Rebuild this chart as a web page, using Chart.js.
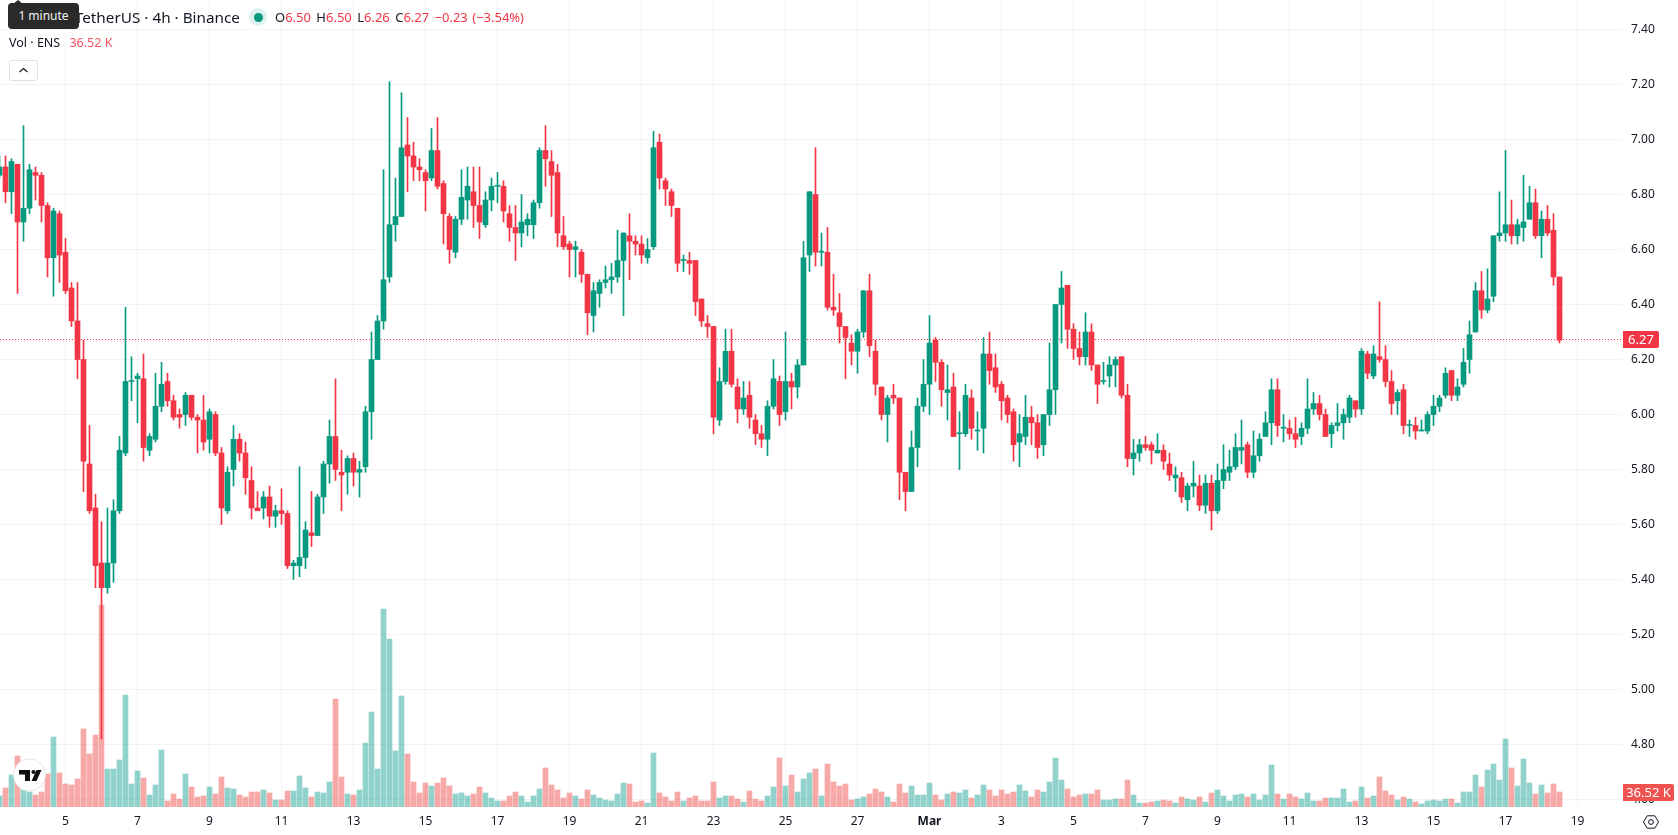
<!DOCTYPE html>
<html>
<head>
<meta charset="utf-8">
<title>ENS / TetherUS 4h</title>
<script src="https://cdn.jsdelivr.net/npm/chart.js@4/dist/chart.umd.min.js"></script>
<style>
  html, body { margin: 0; padding: 0; background: #fff; overflow: hidden; }
  #stage { position: relative; width: 1678px; height: 835px; font-family: "Noto Sans", sans-serif; color: #131722; }
  canvas { position: absolute; left: 0; top: 0; }
  .abs { position: absolute; white-space: nowrap; }
  .red { color: #F23645; }
  #title { right: calc(1678px - 240px); top: 6px; font-size: 15.3px; line-height: 22px; }
  #ohlc { left: 275px; top: 7px; font-size: 13px; line-height: 20px; word-spacing: 1px; }
  #ohlc span { margin-right: 1px; }
  #vol { left: 9px; top: 33px; font-size: 12.5px; line-height: 20px; }
  #vol b { font-weight: 400; color: #F7525F; margin-left: 6px; }
  #dot { left: 249px; top: 8px; width: 18px; height: 18px; border-radius: 50%; background: #DFF1EE; }
  #dot i { position: absolute; left: 4.5px; top: 4.5px; width: 9px; height: 9px; border-radius: 50%; background: #089981; }
  #hint { left: 8px; top: 3px; width: 71px; height: 26px; background: #2A2A2A; border-radius: 4px; color: #F2F2F2;
          font-size: 12px; line-height: 26px; text-align: center; }
  #hintTip { left: 13px; top: 0; width: 0; height: 0; border-left: 5px solid transparent; border-right: 5px solid transparent; border-bottom: 4px solid #2A2A2A; }
  #collapse { left: 9px; top: 60px; width: 27px; height: 19px; border: 1px solid #E0E0E0; border-radius: 3px; background: #fff; }
</style>
</head>
<body>
<div id="stage">
  <canvas id="chart" width="1678" height="835"></canvas>
  <div class="abs" id="title">TetherUS · 4h · Binance</div>
  <div class="abs" id="dot"><i></i></div>
  <div class="abs" id="ohlc"><span>O<b class="red" style="font-weight:400">6.50</b></span> <span>H<b class="red" style="font-weight:400">6.50</b></span> <span>L<b class="red" style="font-weight:400">6.26</b></span> <span>C<b class="red" style="font-weight:400">6.27</b></span> <span class="red">−0.23 (−3.54%)</span></div>
  <div class="abs" id="vol">Vol · ENS <b>36.52 K</b></div>
  <div class="abs" id="hintTip"></div>
  <div class="abs" id="hint">1 minute</div>
  <div class="abs" id="collapse">
    <svg width="27" height="19" viewBox="0 0 27 19"><path d="M9.5 11 L13.5 7.5 L17.5 11" fill="none" stroke="#131722" stroke-width="1.2"/></svg>
  </div>
  <svg class="abs" style="left:12px;top:758px" width="36" height="36" viewBox="0 0 36 36">
    <circle cx="17.5" cy="17" r="16" fill="#fff" stroke="#E6E6E6" stroke-width="1"/>
    <path d="M7 12 H18 V23 H13 V16.5 H7 Z" fill="#0F0F0F"/>
    <circle cx="21.5" cy="14" r="2.1" fill="#0F0F0F"/>
    <path d="M24.5 12 H29.5 L24.5 23 H19.5 Z" fill="#0F0F0F"/>
  </svg>
  <svg class="abs" style="left:1642px;top:813px" width="18" height="18" viewBox="0 0 18 18">
    <path d="M1.5 9 L5.2 2.8 H12.8 L16.5 9 L12.8 15.2 H5.2 Z" fill="none" stroke="#131722" stroke-width="1"/>
    <circle cx="9" cy="9" r="2.4" fill="none" stroke="#131722" stroke-width="1"/>
  </svg>
</div>
<script>
// ENS/USDT four-hour candles and traded volume
const opens = [
  6.87,6.90,6.81,6.91,6.70,6.75,6.88,6.87,6.76,6.57,
  6.73,6.59,6.46,6.34,6.20,5.82,5.66,5.46,5.37,5.46,
  5.65,5.86,6.12,6.13,6.13,5.87,5.91,6.03,6.12,6.05,
  6.00,6.00,6.07,5.99,5.98,5.91,6.00,5.86,5.65,5.80,
  5.91,5.86,5.76,5.66,5.66,5.70,5.63,5.65,5.64,5.45,
  5.45,5.48,5.57,5.56,5.70,5.82,5.92,5.79,5.79,5.84,
  5.79,5.81,6.01,6.20,6.34,6.50,6.69,6.72,6.98,6.94,
  6.90,6.88,6.86,6.96,6.84,6.72,6.59,6.71,6.78,6.81,
  6.76,6.69,6.78,6.83,6.83,6.73,6.68,6.66,6.69,6.69,
  6.77,6.96,6.92,6.88,6.65,6.62,6.60,6.59,6.51,6.36,
  6.44,6.48,6.49,6.50,6.56,6.65,6.63,6.62,6.57,6.61,
  6.99,6.85,6.81,6.75,6.56,6.56,6.56,6.42,6.33,6.32,
  5.98,6.12,6.23,6.10,6.02,6.07,5.98,5.93,5.91,6.03,
  6.12,6.01,6.12,6.10,6.18,6.58,6.80,6.59,6.59,6.39,
  6.37,6.32,6.26,6.23,6.30,6.45,6.23,6.10,6.00,6.07,
  6.06,5.79,5.72,5.88,6.03,6.11,6.27,6.19,6.08,6.10,
  5.93,5.93,6.06,5.94,5.95,6.22,6.17,6.11,6.06,6.01,
  5.90,5.92,5.99,5.97,5.89,6.00,6.09,6.40,6.47,6.31,
  6.24,6.21,6.30,6.18,6.12,6.14,6.18,6.21,6.07,5.84,
  5.86,5.89,5.89,5.86,5.87,5.82,5.77,5.77,5.69,5.74,
  5.74,5.67,5.75,5.65,5.76,5.79,5.81,5.87,5.89,5.79,
  5.85,5.92,5.97,6.09,5.95,5.95,5.93,5.92,5.95,6.02,
  6.04,6.00,5.93,5.96,5.97,5.99,6.05,6.02,6.22,6.14,
  6.21,6.20,6.12,6.05,6.09,5.96,5.96,5.94,5.94,6.00,
  6.03,6.07,6.16,6.07,6.11,6.20,6.30,6.45,6.38,6.43,
  6.65,6.66,6.69,6.65,6.68,6.71,6.77,6.65,6.71,6.67,
  6.50
];
const closes = [
  6.90,6.81,6.92,6.70,6.75,6.89,6.87,6.76,6.57,6.74,
  6.58,6.45,6.34,6.20,5.83,5.65,5.45,5.37,5.46,5.65,
  5.87,6.12,6.12,6.14,5.88,5.92,6.03,6.11,6.05,5.99,
  5.99,6.07,5.99,5.98,5.90,6.01,5.86,5.66,5.79,5.91,
  5.86,5.77,5.66,5.65,5.70,5.63,5.65,5.64,5.45,5.46,
  5.48,5.58,5.56,5.70,5.82,5.92,5.80,5.78,5.84,5.79,
  5.80,6.01,6.20,6.34,6.49,6.69,6.72,6.97,6.94,6.90,
  6.89,6.85,6.96,6.83,6.73,6.60,6.71,6.79,6.83,6.76,
  6.70,6.78,6.83,6.83,6.74,6.68,6.66,6.70,6.71,6.77,
  6.96,6.93,6.87,6.66,6.61,6.60,6.61,6.51,6.37,6.45,
  6.48,6.49,6.50,6.56,6.66,6.63,6.62,6.58,6.60,6.97,
  6.86,6.82,6.76,6.55,6.56,6.55,6.41,6.34,6.32,5.99,
  6.12,6.23,6.11,6.02,6.06,5.99,5.93,5.91,6.03,6.13,
  6.00,6.12,6.10,6.18,6.57,6.81,6.59,6.59,6.39,6.38,
  6.32,6.28,6.23,6.30,6.45,6.25,6.11,6.00,6.06,6.06,
  5.79,5.72,5.88,6.03,6.11,6.26,6.19,6.09,6.09,5.92,
  5.93,6.07,5.95,5.94,6.22,6.16,6.10,6.05,6.00,5.89,
  5.93,5.99,5.97,5.88,6.00,6.09,6.40,6.46,6.31,6.24,
  6.21,6.30,6.18,6.11,6.12,6.18,6.20,6.07,5.84,5.86,
  5.89,5.88,5.87,5.87,5.83,5.78,5.78,5.70,5.74,5.75,
  5.67,5.75,5.65,5.76,5.80,5.81,5.88,5.88,5.79,5.85,
  5.91,5.97,6.09,5.96,5.95,5.93,5.91,5.95,6.02,6.04,
  6.00,5.92,5.96,5.97,6.00,6.06,6.02,6.23,6.15,6.22,
  6.20,6.12,6.04,6.08,5.96,5.96,5.94,5.94,6.00,6.03,
  6.06,6.15,6.07,6.10,6.19,6.29,6.45,6.38,6.42,6.65,
  6.66,6.69,6.65,6.69,6.70,6.77,6.65,6.71,6.66,6.50,
  6.27
];
const highs = [
  6.94,6.94,6.93,6.91,7.05,6.91,6.90,6.88,6.77,6.75,
  6.74,6.64,6.48,6.48,6.27,5.96,5.71,5.61,5.66,5.69,
  5.92,6.39,6.21,6.15,6.22,5.93,6.15,6.19,6.15,6.07,
  6.02,6.08,6.07,6.00,6.07,6.02,6.01,5.88,5.81,5.96,
  5.93,5.90,5.81,5.72,5.72,5.74,5.67,5.73,5.65,5.47,
  5.81,5.61,5.72,5.71,5.83,5.98,6.13,5.87,5.85,5.86,
  5.83,6.03,6.30,6.36,6.89,7.21,6.86,7.17,7.08,6.99,
  6.93,6.89,7.04,7.08,6.85,6.73,6.72,6.89,6.90,6.90,
  6.90,6.81,6.86,6.88,6.85,6.76,6.76,6.80,6.73,6.78,
  6.97,7.05,6.96,6.91,6.72,6.63,6.63,6.60,6.51,6.48,
  6.49,6.54,6.55,6.67,6.66,6.73,6.65,6.65,6.64,7.03,
  7.02,6.86,6.82,6.75,6.58,6.59,6.56,6.42,6.36,6.32,
  6.17,6.31,6.31,6.13,6.12,6.12,6.00,5.96,6.05,6.20,
  6.14,6.30,6.15,6.20,6.63,6.81,6.97,6.66,6.68,6.51,
  6.44,6.32,6.29,6.31,6.45,6.51,6.27,6.10,6.07,6.11,
  6.06,5.79,5.94,6.06,6.20,6.36,6.28,6.20,6.18,6.15,
  6.01,6.11,6.09,6.01,6.28,6.30,6.22,6.12,6.07,6.02,
  6.00,6.07,6.03,6.00,6.00,6.26,6.40,6.52,6.47,6.33,
  6.30,6.37,6.33,6.18,6.19,6.21,6.21,6.21,6.11,5.91,
  5.91,5.92,5.90,5.93,5.89,5.86,5.81,5.79,5.75,5.83,
  5.78,5.78,5.78,5.82,5.89,5.87,5.93,5.98,5.90,5.94,
  5.93,6.01,6.13,6.13,6.00,5.98,5.99,5.97,6.13,6.08,
  6.07,6.02,5.97,6.04,6.02,6.07,6.05,6.24,6.23,6.25,
  6.41,6.25,6.16,6.09,6.11,5.98,5.99,5.98,6.01,6.07,
  6.07,6.17,6.16,6.13,6.24,6.34,6.48,6.52,6.53,6.65,
  6.81,6.96,6.78,6.71,6.87,6.83,6.82,6.74,6.76,6.73,
  6.50
];
const lows = [
  6.86,6.77,6.73,6.44,6.63,6.73,6.78,6.70,6.50,6.43,
  6.48,6.44,6.32,6.13,5.72,5.64,5.37,4.82,5.35,5.39,
  5.64,5.85,6.05,5.97,5.83,5.85,5.90,6.01,6.03,5.98,
  5.95,5.96,5.98,5.86,5.87,5.86,5.85,5.60,5.64,5.74,
  5.83,5.71,5.62,5.65,5.62,5.59,5.59,5.60,5.44,5.40,
  5.41,5.44,5.52,5.56,5.64,5.75,5.76,5.65,5.71,5.74,
  5.70,5.79,5.91,6.20,6.31,6.48,6.63,6.72,6.81,6.85,
  6.85,6.74,6.85,6.82,6.62,6.55,6.57,6.69,6.71,6.68,
  6.64,6.68,6.74,6.77,6.70,6.63,6.56,6.61,6.65,6.64,
  6.75,6.83,6.72,6.61,6.60,6.50,6.50,6.48,6.29,6.30,
  6.39,6.46,6.44,6.48,6.36,6.49,6.58,6.55,6.55,6.60,
  6.82,6.76,6.72,6.52,6.52,6.51,6.36,6.32,6.28,5.93,
  5.96,6.11,6.10,5.97,6.00,5.95,5.89,5.88,5.85,6.02,
  5.96,5.98,6.02,6.06,6.18,6.52,6.54,6.54,6.38,6.36,
  6.26,6.13,6.18,6.15,6.28,6.21,6.07,5.98,5.90,6.04,
  5.69,5.65,5.72,5.81,6.01,6.00,6.12,6.03,5.98,5.92,
  5.80,5.92,5.91,5.87,5.86,6.11,6.08,5.98,5.97,5.83,
  5.81,5.89,5.89,5.84,5.85,5.96,6.00,6.26,6.24,6.20,
  6.18,6.18,6.16,6.04,6.11,6.10,6.10,6.06,5.81,5.78,
  5.83,5.87,5.82,5.86,5.80,5.76,5.72,5.68,5.65,5.70,
  5.65,5.64,5.58,5.64,5.73,5.76,5.80,5.82,5.77,5.77,
  5.83,5.92,5.89,5.92,5.90,5.91,5.88,5.89,5.93,6.00,
  5.98,5.92,5.88,5.94,5.91,5.97,5.99,6.00,6.13,6.13,
  6.19,6.10,6.00,6.00,5.93,5.92,5.91,5.94,5.93,5.96,
  6.01,6.06,6.05,6.05,6.10,6.15,6.30,6.35,6.37,6.41,
  6.63,6.63,6.62,6.62,6.63,6.71,6.64,6.57,6.65,6.47,
  6.26
];
// Volume in thousands of ENS
const volumes = [
  26.8,46.3,77.9,124.2,41.4,36.5,29.2,36.5,80.4,170.5,
  82.8,56.0,53.6,68.2,189.9,129.1,175.3,491.9,92.5,92.5,
  114.4,272.7,56.0,87.7,70.6,29.2,53.6,138.8,14.6,31.7,
  19.5,80.4,48.7,24.4,26.8,48.7,31.7,73.1,46.3,43.8,
  29.2,24.4,36.5,36.5,41.4,34.1,17.0,17.0,39.0,39.0,
  75.5,46.3,24.4,36.5,34.1,60.9,263.0,73.1,31.7,29.2,
  41.4,155.8,231.3,92.5,482.1,409.1,136.4,270.3,129.1,60.9,
  34.1,58.4,51.1,58.4,70.6,51.1,31.7,34.1,26.8,31.7,
  48.7,34.1,21.9,14.6,14.6,26.8,36.5,26.8,12.2,26.8,
  43.8,95.0,53.6,41.4,21.9,34.1,26.8,19.5,41.4,29.2,
  21.9,17.0,14.6,31.7,58.4,56.0,12.2,14.6,9.7,131.5,
  34.1,24.4,14.6,36.5,14.6,21.9,26.8,14.6,14.6,60.9,
  21.9,26.8,26.8,19.5,12.2,39.0,19.5,14.6,26.8,48.7,
  119.3,51.1,77.9,36.5,68.2,82.8,92.5,26.8,104.7,60.9,
  51.1,56.0,17.0,19.5,24.4,31.7,43.8,36.5,24.4,12.2,
  56.0,34.1,51.1,29.2,29.2,58.4,29.2,17.0,31.7,36.5,
  34.1,41.4,21.9,29.2,53.6,41.4,26.8,41.4,31.7,36.5,
  53.6,39.0,24.4,41.4,36.5,60.9,119.3,65.7,43.8,24.4,
  29.2,31.7,31.7,41.4,17.0,17.0,19.5,19.5,65.7,29.2,
  9.7,9.7,12.2,14.6,17.0,14.6,9.7,24.4,19.5,17.0,
  24.4,12.2,34.1,41.4,26.8,14.6,29.2,31.7,24.4,31.7,
  17.0,29.2,102.3,31.7,19.5,31.7,24.4,19.5,34.1,14.6,
  14.6,21.9,21.9,21.9,43.8,12.2,14.6,48.7,21.9,26.8,
  73.1,39.0,29.2,17.0,24.4,19.5,12.2,7.3,14.6,17.0,
  14.6,19.5,19.5,9.7,36.5,36.5,77.9,48.7,90.1,104.7,
  65.7,165.6,95.0,51.1,116.9,58.4,31.7,53.6,34.1,56.0,
  36.52
];
const dayLabels = ['5','7','9','11','13','15','17','19','21','23','25','27','Mar','3','5','7','9','11','13','15','17','19'];
const priceTicks = [4.6,4.8,5.0,5.2,5.4,5.6,5.8,6.0,6.2,6.4,6.6,6.8,7.0,7.2,7.4];
const lastPrice = 6.27;
const lastVolumeLabel = '36.52 K';

const UP = '#089981', DOWN = '#F23645';
const UP_VOL = 'rgba(38,166,154,0.5)', DOWN_VOL = 'rgba(239,83,80,0.5)';
const TEXT = '#131722', GRID = 'rgba(46,46,46,0.06)';
const FONT = '"Noto Sans", sans-serif';

const WIDTH = 1678, HEIGHT = 835, AXIS_W = 56, AXIS_H = 28;
const BAR_STEP = 6;                         // pixels per candle
const FIRST_DAY_BAR = 11, BARS_PER_TICK = 12;
const barMin = 1 / 12, barMax = barMin + (WIDTH - AXIS_W) / BAR_STEP;
const priceMax = 7.50727, priceMin = 4.57273, volumeMax = 1965;

const rising = closes.map((c, i) => c >= opens[i]);
const candleColor = rising.map(r => r ? UP : DOWN);
const volumeColor = rising.map(r => r ? UP_VOL : DOWN_VOL);
const noPadding = axis => { axis.paddingTop = axis.paddingBottom = axis.paddingLeft = axis.paddingRight = 0; };

function tag(ctx, x, yMid, w, h, fill, text) {
  ctx.save();
  ctx.fillStyle = fill;
  ctx.beginPath();
  ctx.roundRect(x, yMid - h / 2, w, h, [0, 2, 2, 0]);
  ctx.fill();
  ctx.fillStyle = '#fff';
  ctx.font = '13px ' + FONT;
  ctx.textAlign = 'center';
  ctx.textBaseline = 'middle';
  ctx.fillText(text, x + w / 2, yMid + 0.5);
  ctx.restore();
}

// Dotted last-price rule under the candles, value tags on top of the axis
const lastPricePlugin = {
  id: 'lastPrice',
  beforeDatasetsDraw(chart) {
    const { ctx, chartArea, scales } = chart;
    const y = Math.round(scales.price.getPixelForValue(lastPrice)) - 0.5;
    ctx.save();
    ctx.strokeStyle = DOWN;
    ctx.lineWidth = 1;
    ctx.setLineDash([1, 2]);
    ctx.beginPath();
    ctx.moveTo(chartArea.left, y);
    ctx.lineTo(chartArea.right, y);
    ctx.stroke();
    ctx.restore();
  },
  afterDraw(chart) {
    const { ctx, scales, chartArea } = chart;
    const x = chartArea.right + 1;
    tag(ctx, x, Math.round(scales.price.getPixelForValue(lastPrice)) - 0.5, 36, 17, DOWN, lastPrice.toFixed(2));
    tag(ctx, x, scales.volume.getPixelForValue(volumes[volumes.length - 1]) + 0.5, 51, 17, '#EF5350', lastVolumeLabel);
  }
};

new Chart(document.getElementById('chart'), {
  type: 'bar',
  data: {
    datasets: [
      {
        label: 'Volume', order: 3, xAxisID: 'x', yAxisID: 'volume', grouped: false,
        data: volumes.map((v, i) => ({ x: i, y: v })),
        backgroundColor: volumeColor, borderWidth: 0,
        barPercentage: 1, categoryPercentage: 1, maxBarThickness: 5
      },
      {
        label: 'Wick', order: 2, xAxisID: 'x', yAxisID: 'price', grouped: false,
        data: highs.map((h, i) => ({ x: i, y: [lows[i], h] })),
        backgroundColor: candleColor, borderWidth: 0,
        barPercentage: 1, categoryPercentage: 1, maxBarThickness: 1
      },
      {
        label: 'Body', order: 1, xAxisID: 'x', yAxisID: 'price', grouped: false,
        data: opens.map((o, i) => ({ x: i, y: [o, closes[i]] })),
        backgroundColor: candleColor, borderWidth: 0, minBarLength: 1,
        barPercentage: 1, categoryPercentage: 1, maxBarThickness: 5
      }
    ]
  },
  options: {
    responsive: false,
    animation: false,
    events: [],
    layout: { padding: 0 },
    plugins: { legend: { display: false }, tooltip: { enabled: false } },
    scales: {
      x: {
        type: 'linear', position: 'bottom', min: barMin, max: barMax, offset: false,
        border: { display: false },
        grid: { color: GRID, drawTicks: false, offset: false },
        afterBuildTicks: axis => { axis.ticks = dayLabels.map((_, k) => ({ value: FIRST_DAY_BAR + k * BARS_PER_TICK })); },
        afterFit: axis => { axis.height = AXIS_H; noPadding(axis); },
        ticks: {
          autoSkip: false, maxRotation: 0, minRotation: 0, padding: 7, color: TEXT,
          callback: (value, index) => dayLabels[index],
          font: ctx => ({ family: FONT, size: 12, weight: ctx.tick && ctx.tick.label === 'Mar' ? '700' : '400' })
        }
      },
      price: {
        type: 'linear', position: 'right', min: priceMin, max: priceMax,
        border: { display: false },
        grid: { color: GRID, drawTicks: false },
        afterBuildTicks: axis => { axis.ticks = priceTicks.map(value => ({ value })); },
        afterFit: axis => { axis.width = AXIS_W; noPadding(axis); },
        ticks: { padding: 9, color: TEXT, font: { family: FONT, size: 12 }, callback: v => v.toFixed(2) }
      },
      volume: { type: 'linear', display: false, min: 0, max: volumeMax, grid: { display: false } }
    }
  },
  plugins: [lastPricePlugin]
});
</script>
</body>
</html>
